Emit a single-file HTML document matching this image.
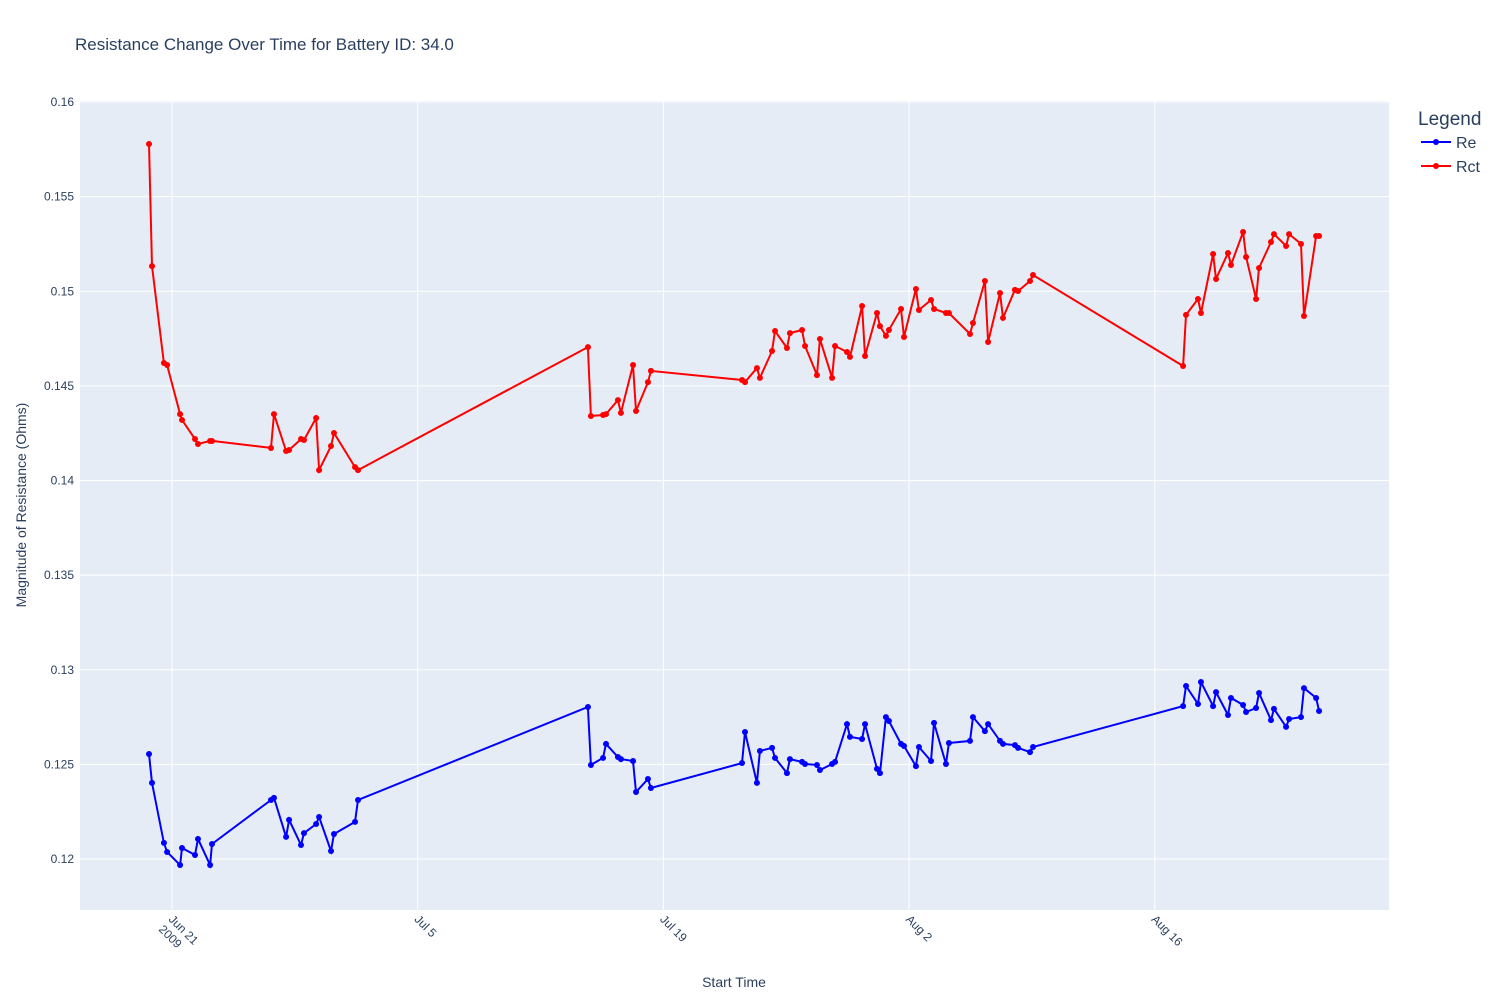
<!DOCTYPE html>
<html><head><meta charset="utf-8"><style>
body{margin:0;background:#fff;font-family:"Liberation Sans",sans-serif;}
svg text{font-family:"Liberation Sans",sans-serif;fill:#2a3f5f;}
</style></head><body>
<svg id="chart" width="1500" height="1000">
<text x="75" y="50" font-size="17">Resistance Change Over Time for Battery ID: 34.0</text>
<rect x="80" y="101" width="1309" height="809" fill="#e5ecf6"/>
<g id="grid"></g><g id="series"></g><g id="axes"></g>
<text x="734" y="987" font-size="14" text-anchor="middle">Start Time</text>
<text transform="translate(26,505) rotate(-90)" font-size="14" text-anchor="middle">Magnitude of Resistance (Ohms)</text>
<g>
<text x="1418" y="125" font-size="19">Legend</text>
<g><line x1="1421" y1="142" x2="1451" y2="142" stroke="#0000ff" stroke-width="2"/><circle cx="1436" cy="142" r="3" fill="#0000ff"/><text x="1456" y="148" font-size="16">Re</text></g>
<g><line x1="1421" y1="166" x2="1451" y2="166" stroke="#ff0000" stroke-width="2"/><circle cx="1436" cy="166" r="3" fill="#ff0000"/><text x="1456" y="172" font-size="16">Rct</text></g>
</g>
</svg>
<script>
// days since Jun 21 2009
const days=[-1.31,-1.14,-0.46,-0.28,0.46,0.57,1.31,1.48,2.17,2.28,5.64,5.81,6.50,6.67,7.35,7.52,8.21,8.38,9.06,9.23,10.43,10.60,23.70,23.87,24.56,24.73,25.41,25.58,26.27,26.44,27.12,27.29,32.48,32.65,33.33,33.50,34.19,34.36,35.04,35.21,35.90,36.07,36.75,36.92,37.61,37.78,38.46,38.63,39.32,39.49,40.17,40.34,40.68,40.85,41.54,41.71,42.39,42.56,43.25,43.42,44.10,44.27,45.47,45.64,46.32,46.50,47.18,47.35,48.03,48.21,48.89,49.06,57.61,57.78,58.46,58.63,59.32,59.49,60.17,60.34,61.03,61.20,61.77,61.94,62.62,62.79,63.48,63.65,64.33,64.50,65.19,65.36];
const reValues=[0.12555,0.12402,0.12085,0.12037,0.11968,0.12058,0.12021,0.12106,0.11968,0.12079,0.12312,0.12323,0.12117,0.12207,0.12074,0.12137,0.12185,0.12222,0.12042,0.12132,0.12196,0.12312,0.12803,0.12497,0.12534,0.12608,0.12539,0.12528,0.12518,0.12354,0.12423,0.12375,0.12507,0.12671,0.12402,0.12571,0.12587,0.12534,0.12454,0.12528,0.12513,0.12502,0.12497,0.12470,0.12502,0.12513,0.12713,0.12645,0.12634,0.12713,0.12476,0.12454,0.12750,0.12729,0.12608,0.12597,0.12491,0.12592,0.12518,0.12719,0.12502,0.12613,0.12624,0.12750,0.12676,0.12713,0.12624,0.12608,0.12602,0.12587,0.12565,0.12592,0.12808,0.12914,0.12819,0.12935,0.12808,0.12882,0.12761,0.12851,0.12814,0.12777,0.12798,0.12877,0.12734,0.12793,0.12698,0.12740,0.12750,0.12903,0.12851,0.12782];
const rctValues=[0.15778,0.15133,0.14621,0.14610,0.14351,0.14320,0.14219,0.14193,0.14209,0.14209,0.14172,0.14351,0.14156,0.14161,0.14219,0.14214,0.14330,0.14055,0.14182,0.14251,0.14071,0.14055,0.14705,0.14341,0.14346,0.14351,0.14425,0.14357,0.14610,0.14367,0.14520,0.14579,0.14531,0.14520,0.14594,0.14542,0.14684,0.14790,0.14700,0.14779,0.14795,0.14711,0.14557,0.14748,0.14542,0.14711,0.14679,0.14653,0.14922,0.14658,0.14885,0.14816,0.14764,0.14795,0.14906,0.14758,0.15012,0.14901,0.14954,0.14906,0.14885,0.14885,0.14774,0.14832,0.15054,0.14732,0.14991,0.14859,0.15007,0.15001,0.15054,0.15086,0.14605,0.14875,0.14959,0.14885,0.15197,0.15065,0.15202,0.15139,0.15313,0.15181,0.14959,0.15123,0.15260,0.15302,0.15239,0.15302,0.15250,0.14869,0.15292,0.15292];
const yTicks=[0.12,0.125,0.13,0.135,0.14,0.145,0.15,0.155,0.16];
const yTickLabels=["0.12","0.125","0.13","0.135","0.14","0.145","0.15","0.155","0.16"];
const xTicks=[0,14,28,42,56];
const xTickLabels=["Jun 21","Jul 5","Jul 19","Aug 2","Aug 16"];

const NS="http://www.w3.org/2000/svg";
function xs(d){return 172+d*17.55;}
function ys(v){return 102+(0.16-v)*18925;}
function mk(tag,attrs,parent){const e=document.createElementNS(NS,tag);for(const k in attrs)e.setAttribute(k,attrs[k]);parent.appendChild(e);return e;}
const grid=document.getElementById('grid'),axes=document.getElementById('axes'),series=document.getElementById('series');
yTicks.forEach((t,i)=>{
  const g=mk('line',{x1:80,x2:1389,y1:ys(t),y2:ys(t),stroke:'#fff','stroke-width':1},grid);
  
  
  const l=mk('text',{x:74,y:ys(t)+4,'font-size':12,'text-anchor':'end'},axes);
  l.textContent=yTickLabels[i];
  
  
});
xTicks.forEach((t,i)=>{
  const x=xs(t);
  const g=mk('line',{x1:x,x2:x,y1:101,y2:910,stroke:'#fff','stroke-width':1},grid);
  
  
  const l=mk('text',{transform:`translate(${x-4},${920}) rotate(45)`,'font-size':12},axes);
  l.textContent=xTickLabels[i];
  
  
  if(i===0){
    const y=mk('text',{transform:`translate(${x-14},${930}) rotate(45)`,'font-size':12},axes);
    y.textContent='2009';
    
    
  }
});
function drawSeries(vals,color,name){
  const pts=vals.map((v,i)=>xs(days[i]).toFixed(1)+','+ys(v).toFixed(1)).join(' ');
  const pl=mk('polyline',{points:pts,fill:'none',stroke:color,'stroke-width':2},series);
  
  
  vals.forEach((v,i)=>{
    const c=mk('circle',{cx:xs(days[i]),cy:ys(v),r:3,fill:color},series);
    
    
  });
}
drawSeries(reValues,'#0000ff','re');
drawSeries(rctValues,'#ff0000','rct');
</script>
</body></html>
